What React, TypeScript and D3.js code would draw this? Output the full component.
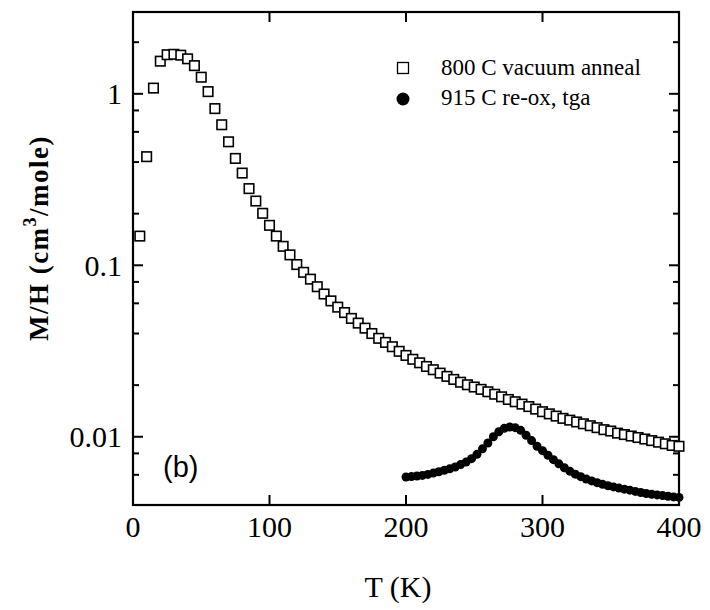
import React from "react";
import * as d3 from "d3";

const squareT = [5,10,15,20,25,30,35,40,45,50,55,60,65,70,75,80,85,90,95,100,105,110,115,120,125,130,135,140,145,150,155,160,165,170,175,180,185,190,195,200,205,210,215,220,225,230,235,240,245,250,255,260,265,270,275,280,285,290,295,300,305,310,315,320,325,330,335,340,345,350,355,360,365,370,375,380,385,390,395,400];
const squareM = [0.148,0.43,1.08,1.55,1.69,1.70,1.68,1.60,1.46,1.25,1.03,0.82,0.66,0.525,0.42,0.345,0.28,0.237,0.201,0.171,0.148,0.129,0.115,0.101,0.091,0.083,0.075,0.068,0.062,0.057,0.053,0.049,0.046,0.043,0.040,0.0375,0.0355,0.0335,0.0315,0.0298,0.0283,0.0270,0.0257,0.0246,0.0235,0.0225,0.0216,0.0208,0.0201,0.0195,0.0189,0.0183,0.0177,0.0171,0.0165,0.0160,0.0155,0.0150,0.0145,0.0140,0.0136,0.0132,0.0128,0.0125,0.0122,0.0119,0.0116,0.0113,0.0110,0.0108,0.0105,0.0103,0.0101,0.0099,0.0097,0.0095,0.0093,0.0091,0.0089,0.0088];

const circleT = [200,204,208,212,216,220,224,228,232,236,240,244,248,252,256,260,264,268,272,276,280,284,288,292,296,300,304,308,312,316,320,324,328,332,336,340,344,348,352,356,360,364,368,372,376,380,384,388,392,396,400];
const circleM = [0.00583,0.00586,0.00590,0.00595,0.00603,0.00614,0.00625,0.00637,0.00650,0.00666,0.00688,0.00712,0.00745,0.00790,0.00850,0.00920,0.01000,0.01070,0.01120,0.01140,0.01130,0.01090,0.01020,0.00950,0.00880,0.00830,0.00780,0.00735,0.00695,0.00660,0.00630,0.00605,0.00585,0.00567,0.00553,0.00540,0.00528,0.00518,0.00510,0.00502,0.00495,0.00488,0.00480,0.00473,0.00467,0.00462,0.00458,0.00454,0.00450,0.00446,0.00443];

const xTicks = [0, 100, 200, 300, 400];
const yMajor = [0.01, 0.1, 1];
const yMajorLabels = ["0.01", "0.1", "1"];
const yMinor = [0.006, 0.008, 0.02, 0.04, 0.06, 0.08, 0.2, 0.4, 0.6, 0.8, 2];
const legendLabels = ["800 C vacuum anneal", "915 C re-ox, tga"];

const L = 133, R = 679, T = 12, B = 505;
const serif = "'Liberation Serif', 'Times New Roman', serif";

export default function App() {
  const x = d3.scaleLinear().domain([0, 400]).range([L, R]);
  const y = d3.scaleLog().domain([0.004, 3]).range([B, T]);
  const sq = 9.5;
  const sqData = squareT.map((t, i) => ({ t, m: squareM[i] }));
  const ciData = circleT.map((t, i) => ({ t, m: circleM[i] }));

  return (
    <svg width={710} height={610} style={{ position: "absolute", left: 0, top: 0, background: "#fff" }}>
      <rect x={0} y={0} width={710} height={610} fill="#fff" />
      <rect x={L} y={T} width={R - L} height={B - T} fill="none" stroke="#000" strokeWidth={2.2} />
      {xTicks.slice(1, -1).map((v) => (
        <g key={"xt" + v}>
          <line x1={x(v)} x2={x(v)} y1={B} y2={B - 10} stroke="#000" strokeWidth={2} />
          <line x1={x(v)} x2={x(v)} y1={T} y2={T + 10} stroke="#000" strokeWidth={2} />
        </g>
      ))}
      {xTicks.map((v) => (
        <text key={"xl" + v} x={x(v)} y={537} textAnchor="middle" fontFamily={serif} fontSize={30}>
          {v}
        </text>
      ))}
      {yMajor.map((v, i) => (
        <g key={"ym" + v}>
          <line x1={L} x2={L + 10} y1={y(v)} y2={y(v)} stroke="#000" strokeWidth={2} />
          <line x1={R} x2={R - 10} y1={y(v)} y2={y(v)} stroke="#000" strokeWidth={2} />
          <text x={122} y={y(v)} dy="0.35em" textAnchor="end" fontFamily={serif} fontSize={30}>
            {yMajorLabels[i]}
          </text>
        </g>
      ))}
      {yMinor.map((v) => (
        <g key={"yn" + v}>
          <line x1={L} x2={L + 6} y1={y(v)} y2={y(v)} stroke="#000" strokeWidth={2} />
          <line x1={R} x2={R - 6} y1={y(v)} y2={y(v)} stroke="#000" strokeWidth={2} />
        </g>
      ))}
      {ciData.map((d, i) => (
        <circle key={"c" + i} cx={x(d.t)} cy={y(d.m)} r={4.5} fill="#000" />
      ))}
      {sqData.map((d, i) => (
        <rect key={"s" + i} x={x(d.t) - sq / 2} y={y(d.m) - sq / 2} width={sq} height={sq} fill="#fff" stroke="#000" strokeWidth={1.6} />
      ))}
      <rect x={403 - 5.5} y={68 - 5.5} width={11} height={11} fill="#fff" stroke="#000" strokeWidth={1.3} />
      <circle cx={403} cy={99} r={6.5} fill="#000" />
      <text x={441} y={75} fontFamily={serif} fontSize={23}>{legendLabels[0]}</text>
      <text x={441} y={105} fontFamily={serif} fontSize={23}>{legendLabels[1]}</text>
      <text x={163} y={477} fontFamily="'Liberation Sans', Arial, sans-serif" fontSize={29}>(b)</text>
      <text x={398} y={597} textAnchor="middle" fontFamily={serif} fontSize={30}>T (K)</text>
      <text transform="translate(48,238) rotate(-90)" textAnchor="middle" fontFamily={serif} fontSize={27} fontWeight="bold" letterSpacing={1.5}>
        M/H (cm<tspan fontSize={18} dy={-12}>3</tspan><tspan dy={12}>/mole)</tspan>
      </text>
    </svg>
  );
}
